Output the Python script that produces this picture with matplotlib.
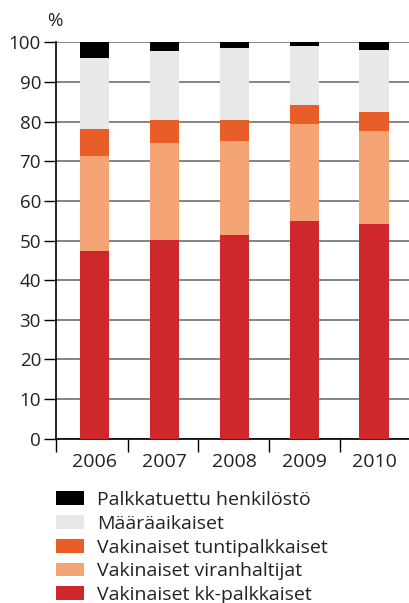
import matplotlib.pyplot as plt
import numpy as np
from matplotlib.patches import Patch

plt.rcParams['font.family'] = ['Open Sans', 'DejaVu Sans']

years = ['2006', '2007', '2008', '2009', '2010']
kk_palkkaiset = [47.4, 50.2, 51.4, 55.0, 54.2]
viranhaltijat = [24.0, 24.5, 23.8, 24.5, 23.5]
tuntipalkkaiset = [6.8, 5.8, 5.3, 4.8, 4.8]
maaraaikaiset = [17.9, 17.4, 18.2, 14.9, 15.7]
palkkatuettu = [3.9, 2.1, 1.3, 0.8, 1.8]

labels = ['Vakinaiset kk-palkkaiset', 'Vakinaiset viranhaltijat',
          'Vakinaiset tuntipalkkaiset', 'Määräaikaiset', 'Palkkatuettu henkilöstö']
colors = ['#CE282D', '#F5A476', '#E95E28', '#E8E8E8', '#000000']
series = [kk_palkkaiset, viranhaltijat, tuntipalkkaiset, maaraaikaiset, palkkatuettu]

fig = plt.figure(figsize=(4.09, 6.03), dpi=100)
ax = fig.add_axes([0.1377, 0.2725, 0.8623, 0.6572])

x = np.arange(len(years))
bottom = np.zeros(len(years))
for vals, col in zip(series, colors):
    ax.bar(x, vals, width=0.42, bottom=bottom, color=col, zorder=3)
    bottom += np.array(vals)

ax.set_xlim(-0.55, 4.5)
ax.set_ylim(0, 100)
ax.set_yticks(range(0, 101, 10))
ax.yaxis.grid(True, color='#707070', linewidth=1.2, zorder=0)
# category boundary ticks
ax.set_xticks([-0.55, 0.47, 1.48, 2.5, 3.51])
ax.set_xticklabels([])
ax.set_xticks(x, minor=True)
ax.set_xticklabels(years, minor=True)
ax.tick_params(axis='x', which='minor', length=0, pad=10, labelsize=14, colors='#222222')
ax.tick_params(axis='x', which='major', length=9, width=1, direction='out')
ax.tick_params(axis='y', length=9, width=1, labelsize=13.5, colors='#222222', pad=2)
ax.tick_params(axis='both', which='both', color='black')
for s in ['top', 'right']:
    ax.spines[s].set_visible(False)
ax.spines['left'].set_linewidth(1.2)
ax.spines['bottom'].set_linewidth(1.2)

fig.text(0.115, 0.966, '%', fontsize=13.5, color='#222222', ha='left', va='center')

handles = [Patch(facecolor=c, edgecolor='none') for c in colors]
fig.legend(handles[::-1], labels[::-1], loc='upper left', bbox_to_anchor=(0.137, 0.186),
           frameon=False, fontsize=14, handlelength=1.44, handleheight=0.72,
           handletextpad=0.65, labelspacing=0.3, borderaxespad=0, borderpad=0,
           labelcolor='#222222')

fig.savefig('out.png', dpi=100)
